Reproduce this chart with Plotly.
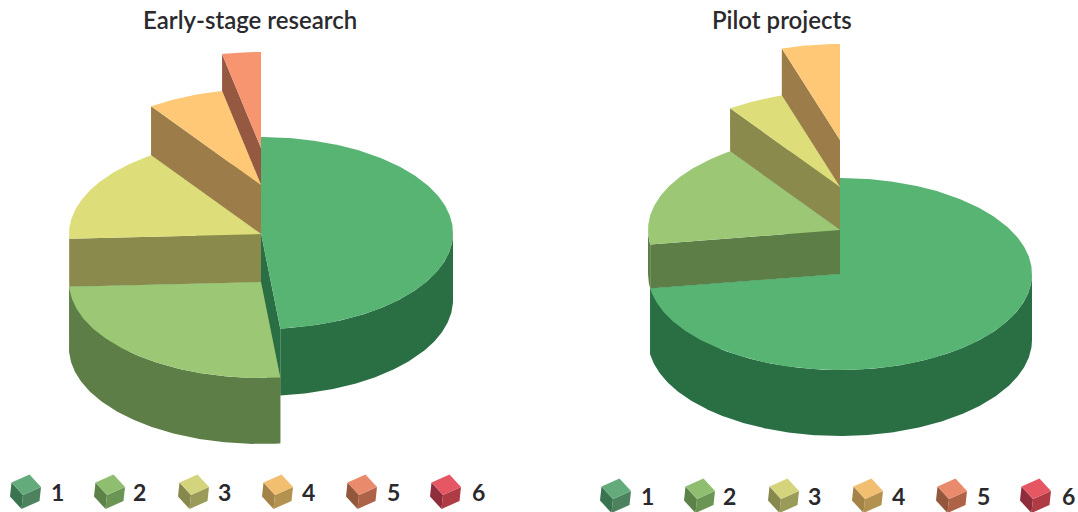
import math
import plotly.graph_objects as go

# ---------- data ----------
titles = ["Early-stage research", "Pilot projects"]
legend_labels = ["1", "2", "3", "4", "5", "6"]

values_a = [48.4, 25.8, 16.1, 6.45, 3.25]
thickness_a = [67, 66, 48, 49, 37]
base_a = [48, 0, 66, 114, 163]

values_b = [72.6, 17.7, 4.8, 4.9]
thickness_b = [66, 44, 43, 47]
base_b = [0, 66, 110, 153]

top_colors = ["#58B473", "#9CC875", "#DDDD79", "#FEC877", "#F6956F", "#E45763"]
wall_colors = ["#2A6E44", "#5E7E48", "#8A8A4C", "#9C7C48", "#955840", "#8F2E3A"]
cube_top = ["#64AB7B", "#8FBE70", "#D3D47C", "#F2BE70", "#EA8A6C", "#E45763"]
cube_right = ["#4C835E", "#6A9554", "#9A9B58", "#B3924F", "#AE6247", "#AF3B45"]
cube_left = ["#397350", "#5C8249", "#86884C", "#A38347", "#93573C", "#8F2E3A"]

# ---------- layout constants ----------
RX, RY = 192, 96
PIES = [
    dict(cx=261, ground=348, values=values_a, thick=thickness_a, base=base_a,
         title=titles[0], title_x=250, legend_dx=0, legend_dy=0),
    dict(cx=840, ground=340, values=values_b, thick=thickness_b, base=base_b,
         title=titles[1], title_x=782, legend_dx=590, legend_dy=4),
]
CUBE_A, CUBE_C, CUBE_E = (-11.5, -12.5), (18, -8), (-1.5, 14)
CUBE_ORIGIN = (23, 495)
LEGEND_STEP = 84
LEGEND_TEXT_DX = [34, 32.6, 33.2, 33.8, 34.4, 35]

fig = go.Figure()


def poly(pts, color):
    fig.add_trace(go.Scatter(
        x=[p[0] for p in pts] + [pts[0][0]],
        y=[p[1] for p in pts] + [pts[0][1]],
        mode="lines", fill="toself", fillcolor=color,
        line=dict(width=0, color=color), hoverinfo="skip", showlegend=False,
    ))


def rim(cx, cy, deg):
    t = math.radians(deg)
    return (cx + RX * math.sin(t), cy - RY * math.cos(t))


def arc(cx, cy, a0, a1):
    n = max(2, int(abs(a1 - a0) * 1.5) + 2)
    return [rim(cx, cy, a0 + (a1 - a0) * i / (n - 1)) for i in range(n)]


for pie in PIES:
    total = sum(pie["values"])
    start = 0
    slices = []
    for i, v in enumerate(pie["values"]):
        end = start + v / total * 360
        cy = pie["ground"] - pie["base"][i] - pie["thick"][i]
        slices.append((cy, i, start, end))
        start = end
    # paint from the highest slice down to the lowest
    for cy, i, a0, a1 in sorted(slices, key=lambda s: (s[0], s[1])):
        h = pie["thick"][i]
        cx = pie["cx"]
        wall, top = wall_colors[i], top_colors[i]
        for ang in (a1, a0):
            e = rim(cx, cy, ang)
            poly([e, (cx, cy), (cx, cy + h), (e[0], e[1] + h)], wall)
        lo, hi = max(a0, 90), min(a1, 270)
        if hi > lo:
            upper = arc(cx, cy, lo, hi)
            poly(upper + [(x, y + h) for x, y in reversed(upper)], wall)
        poly([(cx, cy)] + arc(cx, cy, a0, a1), top)

annotations = []
for pie in PIES:
    annotations.append(dict(
        x=pie["title_x"], y=19.5, xref="x", yref="y", text=pie["title"],
        showarrow=False, xanchor="center", yanchor="middle",
        font=dict(family="Lato", size=24, weight=600, color="#2A2A2E"),
    ))
    for k, label in enumerate(legend_labels):
        ox = CUBE_ORIGIN[0] + pie["legend_dx"] + k * LEGEND_STEP
        oy = CUBE_ORIGIN[1] + pie["legend_dy"]
        g = (ox, oy)
        a = (ox + CUBE_A[0], oy + CUBE_A[1])
        c = (ox + CUBE_C[0], oy + CUBE_C[1])
        e = (ox + CUBE_E[0], oy + CUBE_E[1])
        b = (a[0] + CUBE_C[0], a[1] + CUBE_C[1])
        f = (a[0] + CUBE_E[0], a[1] + CUBE_E[1])
        d = (c[0] + CUBE_E[0], c[1] + CUBE_E[1])
        poly([a, g, e, f], cube_left[k])
        poly([g, c, d, e], cube_right[k])
        poly([a, b, c, g], cube_top[k])
        annotations.append(dict(
            x=ox + LEGEND_TEXT_DX[k], y=oy - 3, xref="x", yref="y", text=label,
            showarrow=False, xanchor="center", yanchor="middle",
            font=dict(family="Lato", size=23, weight=700, color="#2A2A2E"),
        ))

fig.update_layout(
    width=1078, height=512,
    margin=dict(l=0, r=0, t=0, b=0),
    paper_bgcolor="white", plot_bgcolor="white",
    xaxis=dict(range=[0, 1078], visible=False, fixedrange=True),
    yaxis=dict(range=[512, 0], visible=False, fixedrange=True),
    showlegend=False, annotations=annotations,
)
fig.write_html(
    "out.html", config=dict(displayModeBar=False),
    post_script="document.body.style.margin='0';document.documentElement.style.overflow='hidden';",
)
